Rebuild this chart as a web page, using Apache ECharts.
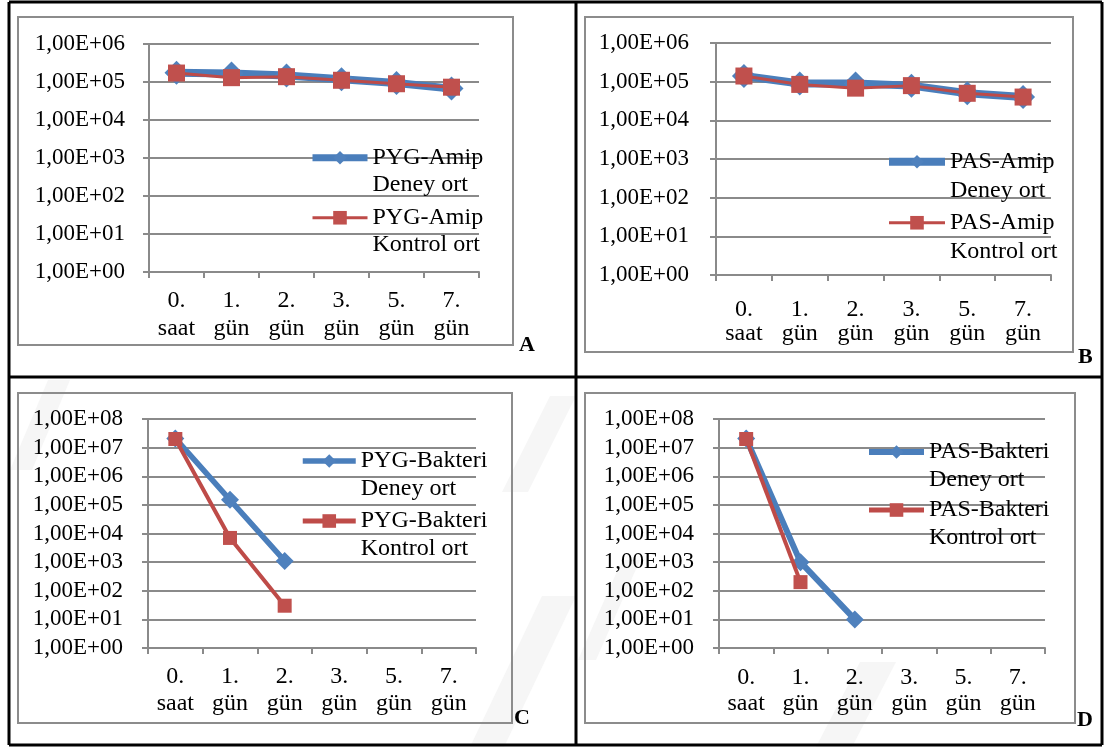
<!DOCTYPE html>
<html>
<head>
<meta charset="utf-8">
<script src="https://cdn.jsdelivr.net/npm/echarts@6/dist/echarts.min.js"></script>
<style>
  html, body { margin: 0; padding: 0; background: #ffffff; }
  #chart { width: 1105px; height: 747px; }
</style>
</head>
<body>
<div id="chart"></div>
<script>
// Sampling times (x categories)
const categories = ['0.\nsaat', '1.\ngün', '2.\ngün', '3.\ngün', '5.\ngün', '7.\ngün'];

// Y tick labels (log10 scale, one per decade)
const amipTicks = ['1,00E+00', '1,00E+01', '1,00E+02', '1,00E+03', '1,00E+04', '1,00E+05', '1,00E+06'];
const bakteriTicks = ['1,00E+00', '1,00E+01', '1,00E+02', '1,00E+03', '1,00E+04', '1,00E+05', '1,00E+06', '1,00E+07', '1,00E+08'];

// Panel A – PYG amoeba counts
const pygAmipDeney   = [176000, 167000, 148000, 118000, 94000, 67000];
const pygAmipKontrol = [172000, 130000, 138000, 111000, 90000, 73000];

// Panel B – PAS amoeba counts
const pasAmipDeney   = [140000, 90000, 90000, 79000, 50000, 40000];
const pasAmipKontrol = [140000, 85000, 68000, 79000, 50000, 40000];

// Panel C – PYG bacteria counts
const pygBakteriDeney   = [21000000, 150000, 1100, null, null, null];
const pygBakteriKontrol = [20000000, 7000, 30, null, null, null];

// Panel D – PAS bacteria counts
const pasBakteriDeney   = [21000000, 1000, 10, null, null, null];
const pasBakteriKontrol = [20000000, 200, null, null, null, null];

const FONT = "'Liberation Serif', 'Times New Roman', serif";
const BLUE_LINE = '#4A7EBB', BLUE_MARK = '#4F81BD';
const RED_LINE = '#BE4B48', RED_MARK = '#C0504D';
const GRID_GREY = '#8a8a8a';

const panels = [
  { grid: { left: 149, top: 44, width: 330, height: 228 }, ticks: amipTicks, maxExp: 6,
    labelLH: 28, labelMargin: 15, yMargin: 24,
    names: ['PYG-Amip Deney ort', 'PYG-Amip Kontrol ort'], data: [pygAmipDeney, pygAmipKontrol],
    blueW: 8, redW: 3, blueSym: 24, redSym: 17,
    legend: { left: 309, top: 118, itemWidth: 55, lh: 26.5, spacing: 60, blueW: 7, redW: 3 } },
  { grid: { left: 716, top: 43, width: 335, height: 232 }, ticks: amipTicks, maxExp: 6,
    labelLH: 24, labelMargin: 23, yMargin: 27,
    names: ['PAS-Amip Deney ort', 'PAS-Amip Kontrol ort'], data: [pasAmipDeney, pasAmipKontrol],
    blueW: 8, redW: 3, blueSym: 24, redSym: 17,
    legend: { left: 885, top: 119, itemWidth: 56, lh: 28.5, spacing: 61, blueW: 8, redW: 3 } },
  { grid: { left: 148, top: 419, width: 328, height: 229 }, ticks: bakteriTicks, maxExp: 8,
    labelLH: 27, labelMargin: 15, yMargin: 25,
    names: ['PYG-Bakteri Deney ort', 'PYG-Bakteri Kontrol ort'], data: [pygBakteriDeney, pygBakteriKontrol],
    blueW: 5.5, redW: 4, blueSym: 18, redSym: 14,
    legend: { left: 300, top: 419, itemWidth: 53, lh: 28, spacing: 60, blueW: 5.5, redW: 5 } },
  { grid: { left: 719, top: 419, width: 326, height: 229 }, ticks: bakteriTicks, maxExp: 8,
    labelLH: 26, labelMargin: 17, yMargin: 25,
    names: ['PAS-Bakteri Deney ort', 'PAS-Bakteri Kontrol ort'], data: [pasBakteriDeney, pasBakteriKontrol],
    blueW: 6, redW: 4, blueSym: 18, redSym: 14,
    legend: { left: 866, top: 410, itemWidth: 55, lh: 28, spacing: 58, blueW: 6, redW: 5 } }
];

const option = {
  animation: false,
  backgroundColor: '#ffffff',
  grid: [], xAxis: [], yAxis: [], series: [], legend: [], graphic: []
};

panels.forEach((p, i) => {
  option.grid.push(Object.assign({ containLabel: false }, p.grid));
  option.xAxis.push({
    type: 'category', gridIndex: i, data: categories, boundaryGap: true,
    axisLine: { lineStyle: { color: GRID_GREY, width: 2 } },
    axisTick: { show: true, length: 6, alignWithLabel: false, lineStyle: { color: GRID_GREY, width: 2 } },
    axisLabel: { interval: 0, color: '#000', fontFamily: FONT, fontSize: 24,
                 lineHeight: p.labelLH, margin: p.labelMargin },
    splitLine: { show: false }
  });
  option.yAxis.push({
    type: 'log', logBase: 10, gridIndex: i, min: 1, max: Math.pow(10, p.maxExp), interval: 1,
    axisLine: { show: true, lineStyle: { color: GRID_GREY, width: 2 } },
    axisTick: { show: true, length: 6, lineStyle: { color: GRID_GREY, width: 2 } },
    axisLabel: { color: '#000', fontFamily: FONT, fontSize: 23, margin: p.yMargin,
                 formatter: v => p.ticks[Math.round(Math.log10(v))] },
    splitLine: { show: true, lineStyle: { color: GRID_GREY, width: 2 } },
    minorTick: { show: false }, minorSplitLine: { show: false }
  });
  option.series.push({
    name: p.names[0], type: 'line', xAxisIndex: i, yAxisIndex: i, data: p.data[0],
    symbol: 'diamond', symbolSize: p.blueSym, showAllSymbol: true, connectNulls: false,
    lineStyle: { color: BLUE_LINE, width: p.blueW }, itemStyle: { color: BLUE_MARK }, z: 3
  });
  option.series.push({
    name: p.names[1], type: 'line', xAxisIndex: i, yAxisIndex: i, data: p.data[1],
    symbol: 'rect', symbolSize: p.redSym, showAllSymbol: true, connectNulls: false,
    lineStyle: { color: RED_LINE, width: p.redW }, itemStyle: { color: RED_MARK }, z: 4
  });
  const L = p.legend;
  // An empty first line keeps the series label's first line level with its icon.
  option.legend.push({
    orient: 'vertical', left: L.left, top: L.top, padding: 0,
    itemWidth: L.itemWidth, itemHeight: 17, itemGap: L.spacing - 3 * L.lh,
    selectedMode: false,
    formatter: n => '\n' + n.replace(' ', '\n'),
    textStyle: { color: '#000', fontFamily: FONT, fontSize: 24, lineHeight: L.lh },
    data: [
      { name: p.names[0], lineStyle: { width: L.blueW, color: BLUE_LINE }, itemStyle: { color: BLUE_MARK } },
      { name: p.names[1], lineStyle: { width: L.redW, color: RED_LINE }, itemStyle: { color: RED_MARK } }
    ]
  });
});

// Faint diagonal page watermark bands in the lower half
const watermark = [
  [[470, 747], [504, 747], [576, 596], [542, 596]],
  [[502, 492], [528, 492], [576, 396], [550, 396]],
  [[10, 470], [32, 470], [70, 380], [48, 380]],
  [[578, 660], [596, 660], [640, 560], [622, 560]],
  [[816, 747], [852, 747], [896, 662], [860, 662]]
];
watermark.forEach(pts => option.graphic.push({
  type: 'polygon', shape: { points: pts },
  style: { fill: '#f6f6f6' }, z: -10, silent: true
}));

// Chart frames (grey) around each panel
const frames = [
  [18, 17, 495, 328], [585, 17, 488, 335], [18, 393, 494, 330], [585, 393, 490, 330]
];
frames.forEach(f => option.graphic.push({
  type: 'rect', shape: { x: f[0], y: f[1], width: f[2], height: f[3] },
  style: { fill: 'none', stroke: '#8c8c8c', lineWidth: 2 }, z: 0, silent: true
}));

// Table borders (black)
const tableLines = [
  [9, 2, 1102, 2], [9, 745, 1102, 745], [9, 2, 9, 745], [1102, 2, 1102, 745],
  [576, 2, 576, 745], [9, 377, 1102, 377]
];
tableLines.forEach(l => option.graphic.push({
  type: 'line', shape: { x1: l[0], y1: l[1], x2: l[2], y2: l[3] },
  style: { stroke: '#000', lineWidth: 3 }, z: 1, silent: true
}));

// Panel letters
const letters = [['A', 519, 345], ['B', 1078, 357], ['C', 514, 718], ['D', 1077, 720]];
letters.forEach(t => option.graphic.push({
  type: 'text', x: t[1], y: t[2],
  style: { text: t[0], fill: '#000', font: "bold 22px 'Liberation Serif', serif", verticalAlign: 'middle' },
  z: 5, silent: true
}));

const chart = echarts.init(document.getElementById('chart'), null, { renderer: 'canvas' });
chart.setOption(option);
</script>
</body>
</html>
